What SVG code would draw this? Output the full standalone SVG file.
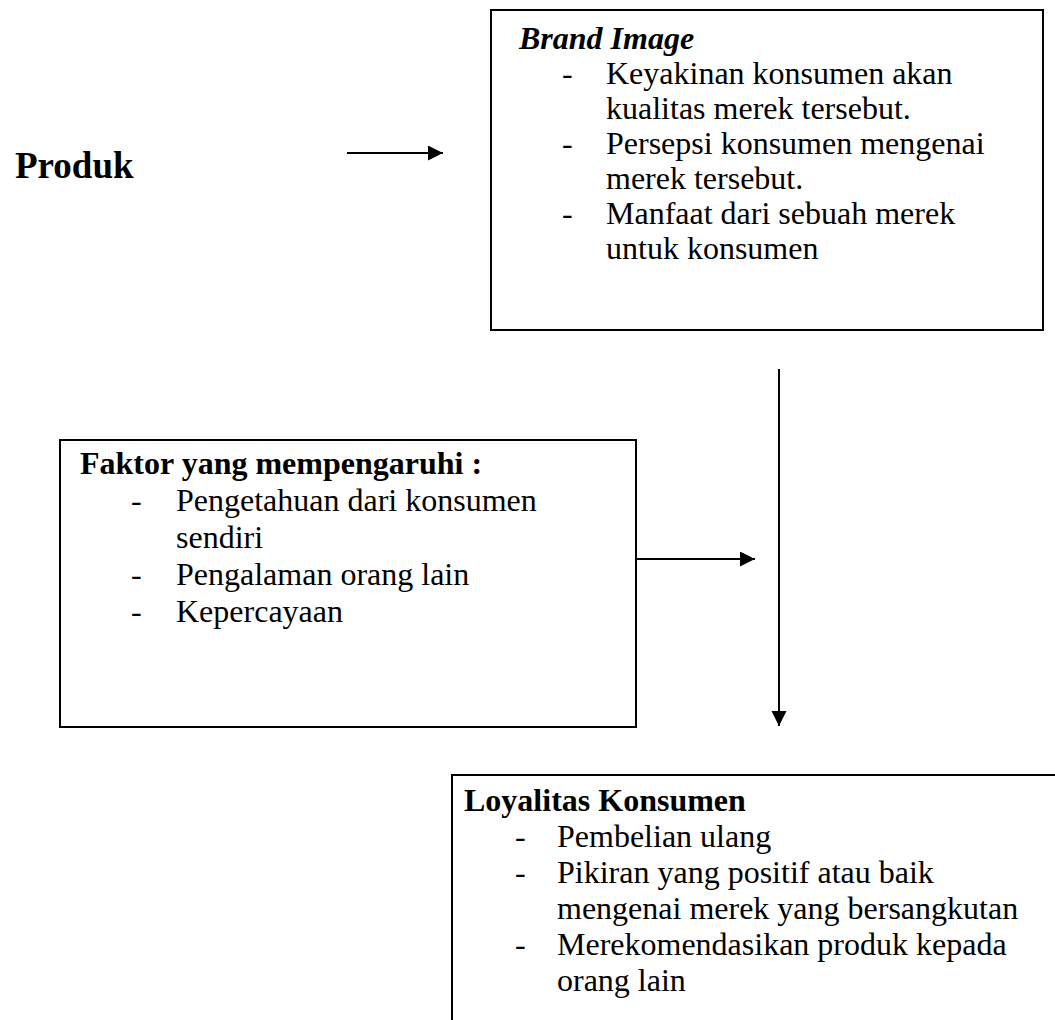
<svg xmlns="http://www.w3.org/2000/svg" width="1055" height="1020" viewBox="0 0 1055 1020">
<style>
.t{font-family:"Liberation Serif","Times New Roman",serif;font-size:32px;fill:#000}
.b{font-weight:bold}
.i{font-style:italic}
.box{fill:none;stroke:#000;stroke-width:2}
.con{fill:none;stroke:#000;stroke-width:2}
</style>
<defs>
<marker id="ah" markerUnits="userSpaceOnUse" markerWidth="16" markerHeight="16" refX="15" refY="7.5" orient="auto">
<path d="M0,0 L15,7.5 L0,15 Z" fill="#000"/>
</marker>
</defs>
<g id="produk">
<text class="t b" x="15" y="178" style="font-size:37px">Produk</text>
</g>
<g id="brand-image">
<rect class="box" x="491" y="10" width="552" height="320"/>
<text class="t b i" x="519" y="49">Brand Image</text>
<text class="t" x="562" y="84">-</text><text class="t" x="606" y="84">Keyakinan konsumen akan</text>
<text class="t" x="606" y="119">kualitas merek tersebut.</text>
<text class="t" x="562" y="154">-</text><text class="t" x="606" y="154">Persepsi konsumen mengenai</text>
<text class="t" x="606" y="189">merek tersebut.</text>
<text class="t" x="562" y="224">-</text><text class="t" x="606" y="224">Manfaat dari sebuah merek</text>
<text class="t" x="606" y="259">untuk konsumen</text>
</g>
<g id="faktor">
<rect class="box" x="60" y="440" width="576" height="287"/>
<text class="t b" x="80" y="474">Faktor yang mempengaruhi :</text>
<text class="t" x="131" y="511">-</text><text class="t" x="176" y="511">Pengetahuan dari konsumen</text>
<text class="t" x="176" y="548">sendiri</text>
<text class="t" x="131" y="585">-</text><text class="t" x="176" y="585">Pengalaman orang lain</text>
<text class="t" x="131" y="622">-</text><text class="t" x="176" y="622">Kepercayaan</text>
</g>
<g id="loyalitas">
<path class="box" d="M452,1021 V775 H1056"/>
<text class="t b" x="464" y="811">Loyalitas Konsumen</text>
<text class="t" x="515" y="847">-</text><text class="t" x="557" y="847">Pembelian ulang</text>
<text class="t" x="515" y="883">-</text><text class="t" x="557" y="883">Pikiran yang positif atau baik</text>
<text class="t" x="557" y="919">mengenai merek yang bersangkutan</text>
<text class="t" x="515" y="955">-</text><text class="t" x="557" y="955">Merekomendasikan produk kepada</text>
<text class="t" x="557" y="991">orang lain</text>
</g>
<g id="connectors">
<line class="con" x1="347" y1="153" x2="443" y2="153" marker-end="url(#ah)"/>
<line class="con" x1="779" y1="369" x2="779" y2="726" marker-end="url(#ah)"/>
<line class="con" x1="636" y1="559" x2="755" y2="559" marker-end="url(#ah)"/>
</g>
</svg>
